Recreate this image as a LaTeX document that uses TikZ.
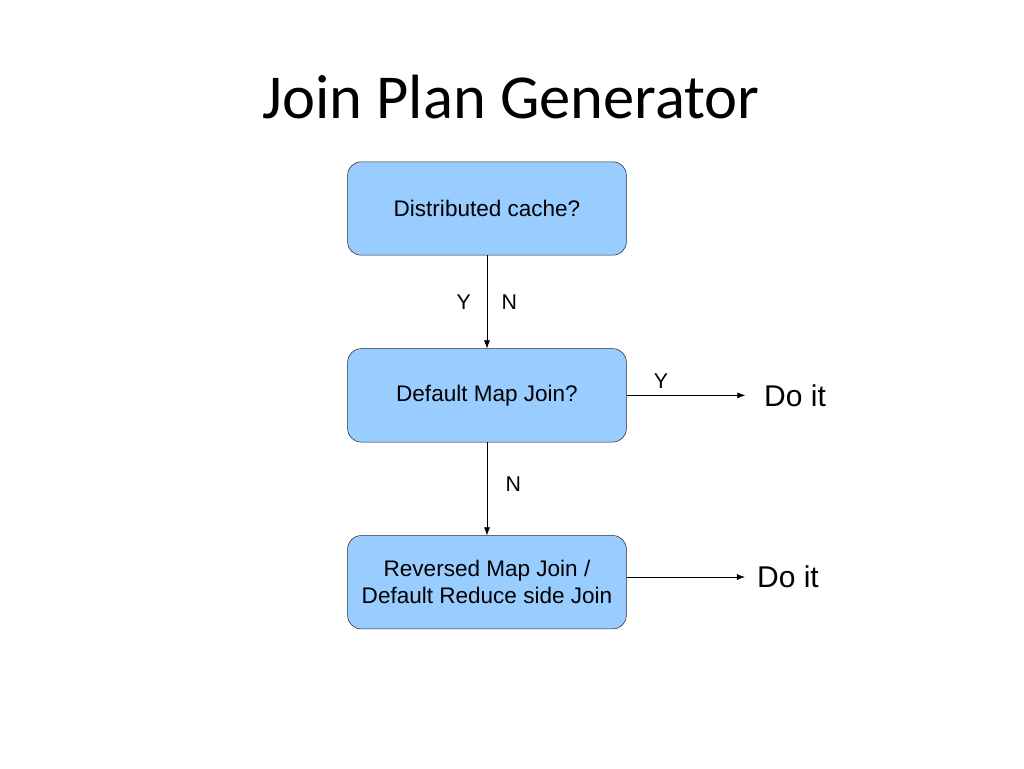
\documentclass[tikz,border=0pt]{standalone}
\usepackage{fontspec}
\setmainfont{Liberation Sans}
\newfontfamily\titlefont{Carlito}
\usepackage{tikz}
\usetikzlibrary{positioning,arrows.meta}
\definecolor{boxblue}{RGB}{153,204,255}

\begin{document}
\begin{tikzpicture}[x = 0.75pt, y = -0.75pt,
    decision/.style = { draw = black!85, fill = boxblue, rounded corners = 10pt,
      minimum width = 209pt, minimum height = 70pt, align = center,
      font = \fontsize{16.9}{20.25}\selectfont },
    outcome/.style = { inner sep = 0pt, font = \fontsize{22.5}{27}\selectfont },
    yn/.style = { font = \fontsize{16}{19}\selectfont },
    flow/.style = { -{Latex[length = 6pt, width = 4.5pt]}, thin }]
      \useasboundingbox (0,0) rectangle (1024,768);
      \node [font = \titlefont\fontsize{46.9}{56}\selectfont] (title) at (511,97) {Join Plan Generator};
      \node [decision] (cache) at (487,208.5) {Distributed cache?};
      \node [decision, below = 69.75pt of cache] (mapjoin) {Default Map Join?};
      \node [decision, below = 69.75pt of mapjoin] (reduce) {Reversed Map Join / \\ Default Reduce side Join};
      \node [outcome, right = 103pt of mapjoin] (doit1) {Do it};
      \node [outcome] (doit2) at (788,577) {Do it};
      \draw [flow] (cache) -- node [yn, left = 8.5pt] {Y} node [yn, right = 7.5pt] {N} (mapjoin);
      \draw [flow] (mapjoin) -- node [yn, pos = .45, right = 10.5pt] {N} (reduce);
      \draw [flow, shorten > = 14pt] (mapjoin) -- node [yn, pos = .25, above = 1.5pt] {Y} (doit1);
      \draw [flow, shorten > = 9pt] (doit2.west -| reduce.east) -- (doit2);
    \end{tikzpicture}
\end{document}
